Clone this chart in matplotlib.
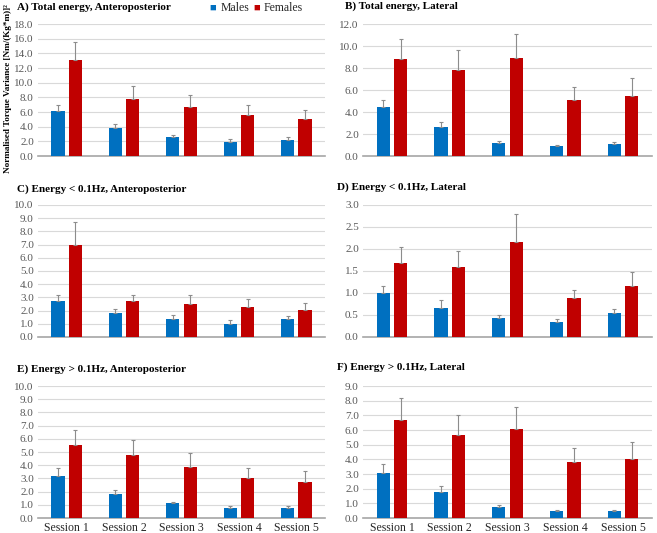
import numpy as np
import matplotlib
matplotlib.use("Agg")
import matplotlib.pyplot as plt

plt.rcParams['font.family'] = ['Liberation Serif', 'DejaVu Serif']

sessions = ['Session 1', 'Session 2', 'Session 3', 'Session 4', 'Session 5']

# A) Total energy, Anteroposterior
a_m = [6.2, 3.8, 2.6, 1.9, 2.2]
a_m_err = [0.7, 0.6, 0.3, 0.4, 0.4]
a_f = [13.1, 7.8, 6.7, 5.6, 5.0]
a_f_err = [2.5, 1.7, 1.6, 1.4, 1.3]

# B) Total energy, Lateral
b_m = [4.5, 2.6, 1.2, 0.9, 1.1]
b_m_err = [0.6, 0.45, 0.2, 0.12, 0.15]
b_f = [8.8, 7.8, 8.9, 5.1, 5.5]
b_f_err = [1.8, 1.8, 2.2, 1.2, 1.6]

# C) Energy < 0.1Hz, Anteroposterior
c_m = [2.7, 1.8, 1.4, 1.0, 1.35]
c_m_err = [0.45, 0.35, 0.25, 0.3, 0.25]
c_f = [7.0, 2.7, 2.5, 2.3, 2.05]
c_f_err = [1.7, 0.5, 0.65, 0.6, 0.5]

# D) Energy < 0.1Hz, Lateral
d_m = [1.0, 0.67, 0.43, 0.35, 0.54]
d_m_err = [0.17, 0.16, 0.07, 0.06, 0.1]
d_f = [1.68, 1.58, 2.16, 0.89, 1.16]
d_f_err = [0.36, 0.38, 0.64, 0.17, 0.32]

# E) Energy > 0.1Hz, Anteroposterior
e_m = [3.2, 1.8, 1.1, 0.75, 0.75]
e_m_err = [0.6, 0.35, 0.12, 0.15, 0.15]
e_f = [5.55, 4.75, 3.9, 3.0, 2.7]
e_f_err = [1.15, 1.15, 1.0, 0.8, 0.85]

# F) Energy > 0.1Hz, Lateral
f_m = [3.1, 1.75, 0.75, 0.5, 0.45]
f_m_err = [0.6, 0.4, 0.15, 0.07, 0.1]
f_f = [6.7, 5.65, 6.1, 3.8, 4.0]
f_f_err = [1.45, 1.35, 1.45, 0.95, 1.2]

panels = [
    ('A) Total energy, Anteroposterior', a_m, a_m_err, a_f, a_f_err, 18, 2),
    ('B) Total energy, Lateral', b_m, b_m_err, b_f, b_f_err, 12, 2),
    ('C) Energy < 0.1Hz, Anteroposterior', c_m, c_m_err, c_f, c_f_err, 10, 1),
    ('D) Energy < 0.1Hz, Lateral', d_m, d_m_err, d_f, d_f_err, 3, 0.5),
    ('E) Energy > 0.1Hz, Anteroposterior', e_m, e_m_err, e_f, e_f_err, 10, 1),
    ('F) Energy > 0.1Hz, Lateral', f_m, f_m_err, f_f, f_f_err, 9, 1),
]

W, H = 657, 533
fig = plt.figure(figsize=(W / 100, H / 100), dpi=100)

# pixel boxes: (left, right, top, bottom)
cols = [(38, 325), (363, 652)]
rows = [(24, 156), (205, 337), (386, 518)]
title_pos = [(17, 7), (345, 6), (17, 189), (337, 187), (17, 369), (337, 367)]

blue = '#0070C0'
red = '#C00000'
x = np.arange(5)
bw = 0.23

for i, (title, m, me, f, fe, ymax, step) in enumerate(panels):
    l, r = cols[i % 2]
    t, b = rows[i // 2]
    ax = fig.add_axes([l / W, 1 - b / H, (r - l) / W, (b - t) / H])
    ax.bar(x - 0.035 - bw / 2, m, bw, color=blue, zorder=3)
    ax.bar(x + 0.035 + bw / 2, f, bw, color=red, zorder=3)
    ax.errorbar(x - 0.035 - bw / 2, m, yerr=[np.zeros(5), me], fmt='none',
                ecolor='#8c8c8c', elinewidth=0.8, capsize=1.5, capthick=0.8, zorder=4)
    ax.errorbar(x + 0.035 + bw / 2, f, yerr=[np.zeros(5), fe], fmt='none',
                ecolor='#8c8c8c', elinewidth=0.8, capsize=1.5, capthick=0.8, zorder=4)
    ax.set_xlim(-0.5, 4.5)
    ax.set_ylim(0, ymax)
    ticks = np.arange(0, ymax + step / 2, step)
    ax.set_yticks(ticks)
    ax.set_yticklabels(['%.1f' % v for v in ticks], fontsize=8, color='#595959')
    ax.yaxis.grid(True, color='#d9d9d9', linewidth=0.8, zorder=0)
    ax.set_axisbelow(True)
    for s in ['top', 'right', 'left']:
        ax.spines[s].set_visible(False)
    ax.spines['bottom'].set_color('#a6a6a6')
    ax.spines['bottom'].set_linewidth(1.2)
    ax.tick_params(axis='y', length=0, pad=3)
    ax.tick_params(axis='x', length=0, pad=3)
    ax.set_xticks(x)
    if i >= 4:
        ax.set_xticklabels(sessions, fontsize=8.5, color='#262626')
    else:
        ax.set_xticklabels([])
    tx, ty = title_pos[i]
    fig.text(tx / W, 1 - ty / H, title, fontsize=8, fontweight='bold',
             ha='left', va='center')

# legend
fig.text(213 / W, 1 - 8 / H, '\u25A0', color=blue, fontsize=8, ha='center', va='center')
fig.text(221 / W, 1 - 8 / H, 'Males', fontsize=8.5, color='#262626', ha='left', va='center')
fig.text(257 / W, 1 - 8 / H, '\u25A0', color=red, fontsize=8, ha='center', va='center')
fig.text(264 / W, 1 - 8 / H, 'Females', fontsize=8.5, color='#262626', ha='left', va='center')

fig.text(8 / W, 1 - 89 / H, 'Normalised Torque Variance [Nm/(Kg*m)]\u00b2',
         rotation=90, fontsize=6.6, fontweight='bold', ha='center', va='center')

fig.savefig('out.png', dpi=100)
